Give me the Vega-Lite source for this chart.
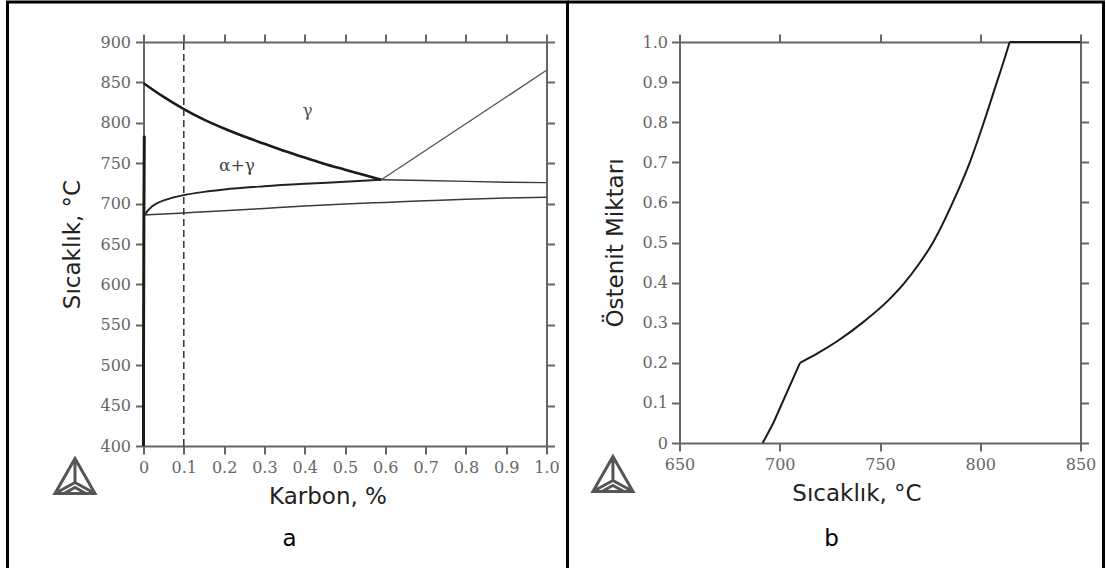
{
  "$schema": "https://vega.github.io/schema/vega-lite/v6.json",
  "padding": {"left": 3.5, "top": 0, "right": 0, "bottom": 0},
  "autosize": {"type": "pad"},
  "background": "white",
  "bounds": "flush",
  "spacing": 133,
  "config": {
    "view": {"stroke": null},
    "axis": {
      "domainColor": "#666", "domainWidth": 2, "tickColor": "#666", "tickWidth": 2, "tickSize": 8,
      "labelFont": "DejaVu Serif", "labelFontSize": 16, "labelColor": "#666", "labelPadding": 5,
      "titleFont": "DejaVu Sans", "titleFontSize": 23, "titleFontWeight": "normal", "titleColor": "#222",
      "grid": false, "labelFlush": false, "labelOverlap": false
    }
  },
  "datasets": {
    "phase": [
      {"curve": "A3", "C": 0, "T": 849}, {"curve": "A3", "C": 0.05, "T": 832}, {"curve": "A3", "C": 0.1, "T": 817},
      {"curve": "A3", "C": 0.15, "T": 804}, {"curve": "A3", "C": 0.2, "T": 793}, {"curve": "A3", "C": 0.25, "T": 783},
      {"curve": "A3", "C": 0.3, "T": 774}, {"curve": "A3", "C": 0.35, "T": 765}, {"curve": "A3", "C": 0.4, "T": 757},
      {"curve": "A3", "C": 0.45, "T": 749}, {"curve": "A3", "C": 0.5, "T": 742}, {"curve": "A3", "C": 0.55, "T": 735},
      {"curve": "A3", "C": 0.59, "T": 729.5},
      {"curve": "A1", "C": 0.005, "T": 687}, {"curve": "A1", "C": 0.01, "T": 691}, {"curve": "A1", "C": 0.02, "T": 696},
      {"curve": "A1", "C": 0.04, "T": 702}, {"curve": "A1", "C": 0.07, "T": 707}, {"curve": "A1", "C": 0.1, "T": 710.5},
      {"curve": "A1", "C": 0.15, "T": 714.5}, {"curve": "A1", "C": 0.2, "T": 717.5}, {"curve": "A1", "C": 0.3, "T": 721.5},
      {"curve": "A1", "C": 0.4, "T": 724.5}, {"curve": "A1", "C": 0.5, "T": 727}, {"curve": "A1", "C": 0.59, "T": 729.5},
      {"curve": "flat", "C": 0.59, "T": 729.5}, {"curve": "flat", "C": 0.7, "T": 728.5}, {"curve": "flat", "C": 0.8, "T": 727.5},
      {"curve": "flat", "C": 0.9, "T": 726.5}, {"curve": "flat", "C": 1.0, "T": 726},
      {"curve": "Acm", "C": 0.59, "T": 729.5}, {"curve": "Acm", "C": 1.0, "T": 865},
      {"curve": "low", "C": 0, "T": 686}, {"curve": "low", "C": 0.1, "T": 688.5}, {"curve": "low", "C": 0.2, "T": 691},
      {"curve": "low", "C": 0.3, "T": 694}, {"curve": "low", "C": 0.4, "T": 697}, {"curve": "low", "C": 0.5, "T": 699.5},
      {"curve": "low", "C": 0.6, "T": 701.5}, {"curve": "low", "C": 0.7, "T": 703.5}, {"curve": "low", "C": 0.8, "T": 705.5},
      {"curve": "low", "C": 0.9, "T": 707}, {"curve": "low", "C": 1.0, "T": 708},
      {"curve": "ferr", "C": 0, "T": 400}, {"curve": "ferr", "C": 0, "T": 500}, {"curve": "ferr", "C": 0.0005, "T": 600},
      {"curve": "ferr", "C": 0.001, "T": 687}, {"curve": "ferr", "C": 0.0015, "T": 740}, {"curve": "ferr", "C": 0.002, "T": 784}
    ],
    "frac": [
      {"seg": "lin", "T": 691.5, "f": 0}, {"seg": "lin", "T": 696.8, "f": 0.05}, {"seg": "lin", "T": 710.1, "f": 0.2},
      {"seg": "curve", "T": 710.1, "f": 0.2}, {"seg": "curve", "T": 719, "f": 0.224}, {"seg": "curve", "T": 729, "f": 0.255},
      {"seg": "curve", "T": 741, "f": 0.299}, {"seg": "curve", "T": 754, "f": 0.355}, {"seg": "curve", "T": 762, "f": 0.398},
      {"seg": "curve", "T": 769.5, "f": 0.447}, {"seg": "curve", "T": 776.3, "f": 0.499}, {"seg": "curve", "T": 786.3, "f": 0.6},
      {"seg": "curve", "T": 794.8, "f": 0.7}, {"seg": "curve", "T": 801.8, "f": 0.8}, {"seg": "curve", "T": 808.3, "f": 0.9},
      {"seg": "curve", "T": 811.6, "f": 0.95}, {"seg": "curve", "T": 814.7, "f": 1.0},
      {"seg": "flat", "T": 814.7, "f": 1.0}, {"seg": "flat", "T": 850, "f": 1.0}
    ]
  },
  "hconcat": [
    {
      "width": 403, "height": 404,
      "resolve": {"axis": {"x": "independent", "y": "independent"}},
      "layer": [
        {
          "data": {"name": "phase"},
          "mark": {"type": "point", "opacity": 0},
          "encoding": {
            "x": {"field": "C", "type": "quantitative", "scale": {"domain": [0, 1], "nice": false, "zero": false},
              "axis": {"orient": "bottom", "values": [0, 0.1, 0.2, 0.3, 0.4, 0.5, 0.6, 0.7, 0.8, 0.9, 1.0],
                "labelExpr": "datum.value == 0 ? '0' : format(datum.value, '.1f')", "title": "Karbon, %", "titleX": 184, "titlePadding": 10}},
            "y": {"field": "T", "type": "quantitative", "scale": {"domain": [400, 900], "nice": false, "zero": false},
              "axis": {"orient": "left", "values": [400, 450, 500, 550, 600, 650, 700, 750, 800, 850, 900], "title": "Sıcaklık, °C", "titlePadding": 15}}
          }
        },
        {
          "data": {"name": "phase"},
          "mark": {"type": "point", "opacity": 0},
          "encoding": {
            "x": {"field": "C", "type": "quantitative", "scale": {"domain": [0, 1], "nice": false, "zero": false},
              "axis": {"orient": "top", "values": [0, 0.1, 0.2, 0.3, 0.4, 0.5, 0.6, 0.7, 0.8, 0.9, 1.0], "labels": false, "title": null}},
            "y": {"field": "T", "type": "quantitative", "scale": {"domain": [400, 900], "nice": false, "zero": false},
              "axis": {"orient": "right", "values": [400, 450, 500, 550, 600, 650, 700, 750, 800, 850, 900], "labels": false, "title": null}}
          }
        },
        {
          "data": {"name": "phase"},
          "transform": [{"filter": "datum.curve === 'low'"}],
          "mark": {"type": "line", "color": "#3a3a3a", "strokeWidth": 1.5, "interpolate": "monotone"},
          "encoding": {
            "x": {"field": "C", "type": "quantitative", "scale": {"domain": [0, 1], "nice": false, "zero": false}, "axis": null},
            "y": {"field": "T", "type": "quantitative", "scale": {"domain": [400, 900], "nice": false, "zero": false}, "axis": null}
          }
        },
        {
          "data": {"name": "phase"},
          "transform": [{"filter": "datum.curve === 'flat'"}],
          "mark": {"type": "line", "color": "#3a3a3a", "strokeWidth": 1.4},
          "encoding": {
            "x": {"field": "C", "type": "quantitative", "scale": {"domain": [0, 1], "nice": false, "zero": false}, "axis": null},
            "y": {"field": "T", "type": "quantitative", "scale": {"domain": [400, 900], "nice": false, "zero": false}, "axis": null}
          }
        },
        {
          "data": {"name": "phase"},
          "transform": [{"filter": "datum.curve === 'Acm'"}],
          "mark": {"type": "line", "color": "#555", "strokeWidth": 1.4},
          "encoding": {
            "x": {"field": "C", "type": "quantitative", "scale": {"domain": [0, 1], "nice": false, "zero": false}, "axis": null},
            "y": {"field": "T", "type": "quantitative", "scale": {"domain": [400, 900], "nice": false, "zero": false}, "axis": null}
          }
        },
        {
          "data": {"name": "phase"},
          "transform": [{"filter": "datum.curve === 'A1'"}],
          "mark": {"type": "line", "color": "#222", "strokeWidth": 1.9, "interpolate": "monotone"},
          "encoding": {
            "x": {"field": "C", "type": "quantitative", "scale": {"domain": [0, 1], "nice": false, "zero": false}, "axis": null},
            "y": {"field": "T", "type": "quantitative", "scale": {"domain": [400, 900], "nice": false, "zero": false}, "axis": null}
          }
        },
        {
          "data": {"name": "phase"},
          "transform": [{"filter": "datum.curve === 'A3'"}],
          "mark": {"type": "line", "color": "#1a1a1a", "strokeWidth": 2.6, "interpolate": "monotone"},
          "encoding": {
            "x": {"field": "C", "type": "quantitative", "scale": {"domain": [0, 1], "nice": false, "zero": false}, "axis": null},
            "y": {"field": "T", "type": "quantitative", "scale": {"domain": [400, 900], "nice": false, "zero": false}, "axis": null}
          }
        },
        {
          "data": {"name": "phase"},
          "transform": [{"filter": "datum.curve === 'ferr'"}],
          "mark": {"type": "line", "color": "#1a1a1a", "strokeWidth": 3},
          "encoding": {
            "x": {"field": "C", "type": "quantitative", "scale": {"domain": [0, 1], "nice": false, "zero": false}, "axis": null},
            "y": {"field": "T", "type": "quantitative", "scale": {"domain": [400, 900], "nice": false, "zero": false}, "axis": null}
          }
        },
        {
          "data": {"values": [{}]},
          "mark": {"type": "rule", "color": "#333", "strokeWidth": 1.5, "strokeDash": [7, 4]},
          "encoding": {
            "x": {"datum": 0.1, "type": "quantitative", "scale": {"domain": [0, 1], "nice": false, "zero": false}, "axis": null},
            "y": {"datum": 400, "type": "quantitative", "scale": {"domain": [400, 900], "nice": false, "zero": false}, "axis": null},
            "y2": {"datum": 900}
          }
        },
        {
          "data": {"values": [{}]},
          "mark": {"type": "text", "text": "γ", "font": "DejaVu Serif", "fontSize": 17, "color": "#555", "align": "center", "baseline": "middle"},
          "encoding": {
            "x": {"datum": 0.407, "type": "quantitative", "scale": {"domain": [0, 1], "nice": false, "zero": false}, "axis": null},
            "y": {"datum": 815, "type": "quantitative", "scale": {"domain": [400, 900], "nice": false, "zero": false}, "axis": null}
          }
        },
        {
          "data": {"values": [{}]},
          "mark": {"type": "text", "text": "α+γ", "font": "DejaVu Serif", "fontSize": 17, "color": "#444", "align": "center", "baseline": "middle"},
          "encoding": {
            "x": {"datum": 0.232, "type": "quantitative", "scale": {"domain": [0, 1], "nice": false, "zero": false}, "axis": null},
            "y": {"datum": 747, "type": "quantitative", "scale": {"domain": [400, 900], "nice": false, "zero": false}, "axis": null}
          }
        },
        {
          "data": {"values": [{}]},
          "mark": {"type": "text", "text": "a", "font": "DejaVu Sans", "fontSize": 23, "color": "#000", "align": "center", "baseline": "alphabetic", "clip": false},
          "encoding": {
            "x": {"datum": 0.3623, "type": "quantitative", "scale": {"domain": [0, 1], "nice": false, "zero": false}, "axis": null},
            "y": {"datum": 276.2, "type": "quantitative", "scale": {"domain": [400, 900], "nice": false, "zero": false}, "axis": null}
          }
        },
        {
          "data": {"values": [{}]},
          "mark": {"type": "point", "shape": "M0,-0.9L1,0.85L-1,0.85Z M0,-0.9L0,0.3 M1,0.85L0,0.3 M-1,0.85L0,0.3 M-0.55,0.85L0,0.55L0.55,0.85", "filled": false, "stroke": "#555", "strokeWidth": 3, "size": 1600, "opacity": 1, "clip": false},
          "encoding": {
            "x": {"datum": -0.17, "type": "quantitative", "scale": {"domain": [0, 1], "nice": false, "zero": false}, "axis": null},
            "y": {"datum": 362.3, "type": "quantitative", "scale": {"domain": [400, 900], "nice": false, "zero": false}, "axis": null}
          }
        },
        {
          "data": {"values": [{}]},
          "mark": {"type": "rule", "color": "#000", "strokeWidth": 3, "clip": false},
          "encoding": {
            "x": {"datum": -0.33747, "type": "quantitative", "scale": {"domain": [0, 1], "nice": false, "zero": false}, "axis": null},
            "y": {"datum": 249.0, "type": "quantitative", "scale": {"domain": [400, 900], "nice": false, "zero": false}, "axis": null},
            "y2": {"datum": 949.5}
          }
        },
        {
          "data": {"values": [{}]},
          "mark": {"type": "rule", "color": "#000", "strokeWidth": 3, "clip": false},
          "encoding": {
            "x": {"datum": 1.05211, "type": "quantitative", "scale": {"domain": [0, 1], "nice": false, "zero": false}, "axis": null},
            "y": {"datum": 249.0, "type": "quantitative", "scale": {"domain": [400, 900], "nice": false, "zero": false}, "axis": null},
            "y2": {"datum": 949.5}
          }
        },
        {
          "data": {"values": [{}]},
          "mark": {"type": "rule", "color": "#000", "strokeWidth": 3, "clip": false},
          "encoding": {
            "x": {"datum": -0.3412, "type": "quantitative", "scale": {"domain": [0, 1], "nice": false, "zero": false}, "axis": null},
            "x2": {"datum": 1.0558},
            "y": {"datum": 949.5, "type": "quantitative", "scale": {"domain": [400, 900], "nice": false, "zero": false}, "axis": null}
          }
        }
      ]
    },
    {
      "width": 401, "height": 401,
      "resolve": {"axis": {"x": "independent", "y": "independent"}},
      "layer": [
        {
          "data": {"name": "frac"},
          "mark": {"type": "point", "opacity": 0},
          "encoding": {
            "x": {"field": "T", "type": "quantitative", "scale": {"domain": [650, 850], "nice": false, "zero": false},
              "axis": {"orient": "bottom", "values": [650, 700, 750, 800, 850], "title": "Sıcaklık, °C", "titleX": 177, "titlePadding": 10}},
            "y": {"field": "f", "type": "quantitative", "scale": {"domain": [0, 1], "nice": false, "zero": false},
              "axis": {"orient": "left", "values": [0, 0.1, 0.2, 0.3, 0.4, 0.5, 0.6, 0.7, 0.8, 0.9, 1.0], "labelPadding": 4,
                "labelExpr": "datum.value == 0 ? '0' : format(datum.value, '.1f')", "title": "Östenit Miktarı", "titlePadding": 15}}
          }
        },
        {
          "data": {"name": "frac"},
          "mark": {"type": "point", "opacity": 0},
          "encoding": {
            "x": {"field": "T", "type": "quantitative", "scale": {"domain": [650, 850], "nice": false, "zero": false},
              "axis": {"orient": "top", "values": [650, 700, 750, 800, 850], "labels": false, "title": null}},
            "y": {"field": "f", "type": "quantitative", "scale": {"domain": [0, 1], "nice": false, "zero": false},
              "axis": {"orient": "right", "values": [0, 0.1, 0.2, 0.3, 0.4, 0.5, 0.6, 0.7, 0.8, 0.9, 1.0], "labels": false, "title": null}}
          }
        },
        {
          "data": {"name": "frac"},
          "transform": [{"filter": "datum.seg !== 'curve'"}],
          "mark": {"type": "line", "color": "#1a1a1a", "strokeWidth": 2},
          "encoding": {
            "detail": {"field": "seg"},
            "x": {"field": "T", "type": "quantitative", "scale": {"domain": [650, 850], "nice": false, "zero": false}, "axis": null},
            "y": {"field": "f", "type": "quantitative", "scale": {"domain": [0, 1], "nice": false, "zero": false}, "axis": null}
          }
        },
        {
          "data": {"name": "frac"},
          "transform": [{"filter": "datum.seg === 'curve'"}],
          "mark": {"type": "line", "color": "#1a1a1a", "strokeWidth": 2, "interpolate": "monotone"},
          "encoding": {
            "x": {"field": "T", "type": "quantitative", "scale": {"domain": [650, 850], "nice": false, "zero": false}, "axis": null},
            "y": {"field": "f", "type": "quantitative", "scale": {"domain": [0, 1], "nice": false, "zero": false}, "axis": null}
          }
        },
        {
          "data": {"values": [{}]},
          "mark": {"type": "text", "text": "b", "font": "DejaVu Sans", "fontSize": 23, "color": "#000", "align": "center", "baseline": "alphabetic", "clip": false},
          "encoding": {
            "x": {"datum": 725.8, "type": "quantitative", "scale": {"domain": [650, 850], "nice": false, "zero": false}, "axis": null},
            "y": {"datum": -0.2569, "type": "quantitative", "scale": {"domain": [0, 1], "nice": false, "zero": false}, "axis": null}
          }
        },
        {
          "data": {"values": [{}]},
          "mark": {"type": "point", "shape": "M0,-0.9L1,0.85L-1,0.85Z M0,-0.9L0,0.3 M1,0.85L0,0.3 M-1,0.85L0,0.3 M-0.55,0.85L0,0.55L0.55,0.85", "filled": false, "stroke": "#555", "strokeWidth": 3, "size": 1600, "opacity": 1, "clip": false},
          "encoding": {
            "x": {"datum": 616.8, "type": "quantitative", "scale": {"domain": [650, 850], "nice": false, "zero": false}, "axis": null},
            "y": {"datum": -0.0786, "type": "quantitative", "scale": {"domain": [0, 1], "nice": false, "zero": false}, "axis": null}
          }
        },
        {
          "data": {"values": [{}]},
          "mark": {"type": "rule", "color": "#000", "strokeWidth": 3, "clip": false},
          "encoding": {
            "x": {"datum": 861.47, "type": "quantitative", "scale": {"domain": [650, 850], "nice": false, "zero": false}, "axis": null},
            "y": {"datum": -0.3117, "type": "quantitative", "scale": {"domain": [0, 1], "nice": false, "zero": false}, "axis": null},
            "y2": {"datum": 1.09975}
          }
        },
        {
          "data": {"values": [{}]},
          "mark": {"type": "rule", "color": "#000", "strokeWidth": 3, "clip": false},
          "encoding": {
            "x": {"datum": 594.14, "type": "quantitative", "scale": {"domain": [650, 850], "nice": false, "zero": false}, "axis": null},
            "x2": {"datum": 862.2},
            "y": {"datum": 1.09975, "type": "quantitative", "scale": {"domain": [0, 1], "nice": false, "zero": false}, "axis": null}
          }
        }
      ]
    }
  ]
}
